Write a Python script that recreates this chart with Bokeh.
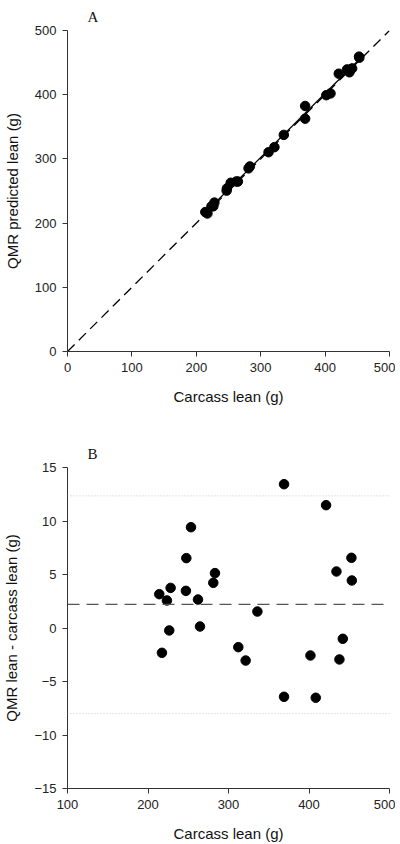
import numpy as np
from bokeh.plotting import figure
from bokeh.layouts import column
from bokeh.models import Range1d, FixedTicker, Span, Title
from bokeh.embed import file_html
from bokeh.resources import INLINE

# Data
carcass_lean = [214.0, 217.3, 223.5, 226.4, 228.1, 247.6, 247.1, 253.4, 262.1, 264.6,
                281.1, 283.2, 312.2, 321.3, 335.9, 369.0, 369.0, 401.8, 408.4, 421.2,
                434.1, 437.8, 442.0, 452.7, 453.2]
qmr_lean = [217.2, 215.0, 226.1, 226.2, 231.9, 254.1, 250.6, 262.8, 264.8, 264.7,
            285.3, 288.3, 310.4, 318.3, 337.4, 382.4, 362.6, 399.2, 401.9, 432.7,
            439.4, 434.9, 441.0, 459.3, 457.6]
difference = [3.16, -2.32, 2.57, -0.23, 3.75, 6.53, 3.47, 9.42, 2.66, 0.14,
              4.22, 5.13, -1.79, -3.04, 1.54, 13.44, -6.43, -2.57, -6.52, 11.48,
              5.28, -2.94, -1.01, 6.56, 4.44]
mean_diff = 2.2
upper_limit = 12.35
lower_limit = -8.0

ticks_a = [0, 100, 200, 300, 400, 500]
ticks_bx = [100, 200, 300, 400, 500]
ticks_by = [-15, -10, -5, 0, 5, 10, 15]

SANS = "Liberation Sans"
SERIF = "Liberation Serif"
AX = "#333333"


def style(p, xlabel, ylabel, xt, yt, letter):
    p.outline_line_color = None
    p.xgrid.visible = False
    p.ygrid.visible = False
    p.xaxis.ticker = FixedTicker(ticks=xt)
    p.yaxis.ticker = FixedTicker(ticks=yt)
    p.xaxis.axis_label = xlabel
    p.yaxis.axis_label = ylabel
    for ax in (p.xaxis, p.yaxis):
        ax.axis_line_color = AX
        ax.axis_line_width = 1
        ax.major_tick_line_color = AX
        ax.major_tick_in = 0
        ax.major_tick_out = 5
        ax.minor_tick_line_color = None
        ax.major_label_text_font = SANS
        ax.major_label_text_font_size = "13px"
        ax.major_label_text_color = "#222222"
        ax.major_label_standoff = 6
        ax.axis_label_text_font = SANS
        ax.axis_label_text_font_size = "15px"
        ax.axis_label_text_font_style = "normal"
        ax.axis_label_text_color = "#111111"
    p.xaxis.axis_label_standoff = 13
    p.yaxis.axis_label_standoff = 11
    p.title = Title(text=letter, align="left", offset=20, standoff=12,
                    text_font=SERIF, text_font_size="15px",
                    text_font_style="normal", text_color="#111111")


# Panel A
pA = figure(frame_width=322, frame_height=321, min_border_left=56, min_border_right=6,
            min_border_top=30, min_border_bottom=69,
            x_range=Range1d(0, 500), y_range=Range1d(0, 500),
            output_backend="svg", toolbar_location=None)
style(pA, "Carcass lean (g)", "QMR predicted lean (g)", ticks_a, ticks_a, "A")
pA.line([0, 500], [0, 500], line_color="black", line_width=1.3, line_dash="10 6")
coef = np.polyfit(carcass_lean, qmr_lean, 1)
fx = np.array([min(carcass_lean), max(carcass_lean)])
pA.line(fx, coef[0] * fx + coef[1], line_color="black", line_width=1.2)
pA.scatter(carcass_lean, qmr_lean, size=9.5, color="black")

# Panel B
pB = figure(frame_width=322, frame_height=321, min_border_left=56, min_border_right=6,
            min_border_top=47, min_border_bottom=48,
            x_range=Range1d(100, 500), y_range=Range1d(-15, 15),
            output_backend="svg", toolbar_location=None)
style(pB, "Carcass lean (g)", "QMR lean - carcass lean (g)", ticks_bx, ticks_by, "B")
pB.add_layout(Span(location=upper_limit, dimension="width", line_color="#c8c8c8",
                   line_width=1, line_dash="1 2"))
pB.add_layout(Span(location=lower_limit, dimension="width", line_color="#c8c8c8",
                   line_width=1, line_dash="1 2"))
pB.add_layout(Span(location=mean_diff, dimension="width", line_color="#555555",
                   line_width=1.3, line_dash="12 7"))
pB.scatter(carcass_lean, difference, size=9.5, color="black")

layout = column(pA, pB, spacing=0)
open("out.html", "w").write(file_html(layout, INLINE))
